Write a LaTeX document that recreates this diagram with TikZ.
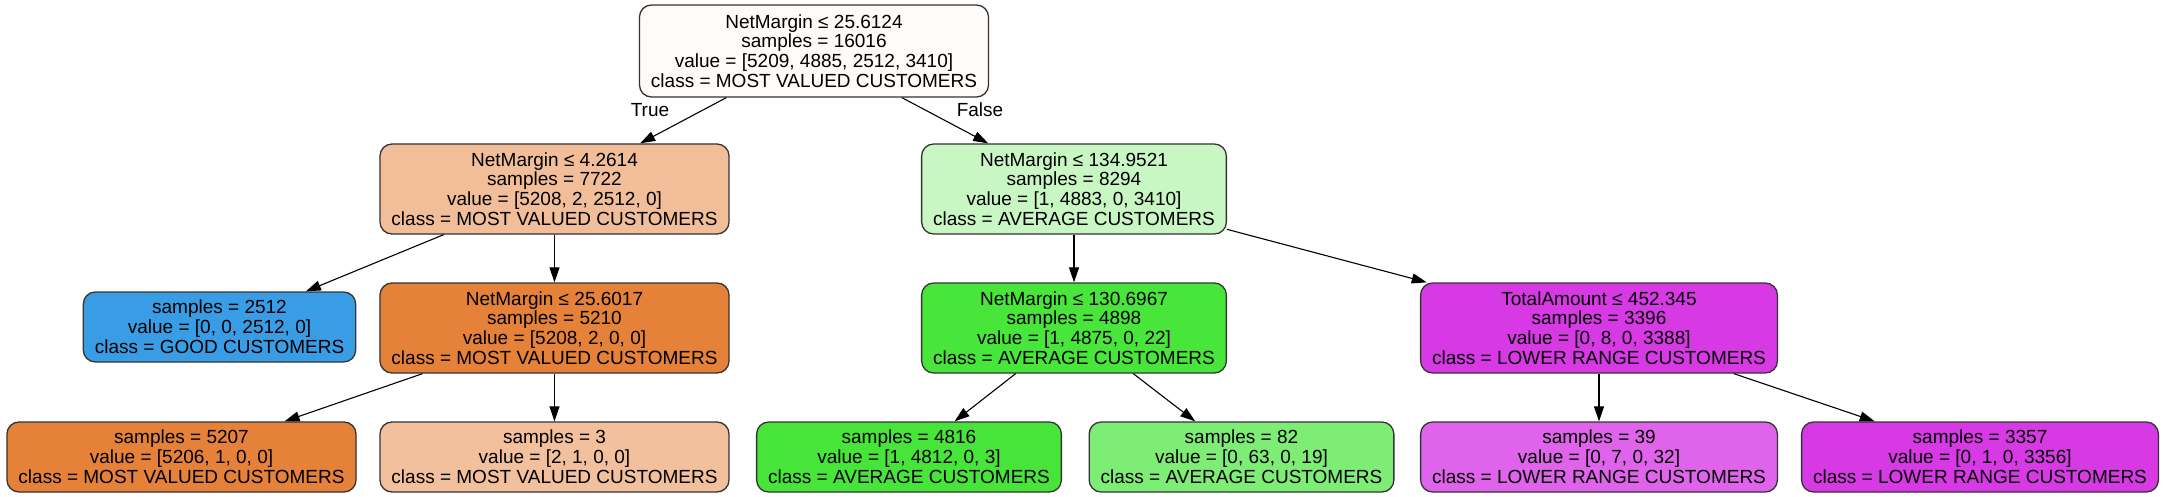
\documentclass[tikz,border=0pt]{standalone}
\usepackage{fontspec}
\setmainfont{Liberation Sans}
\usetikzlibrary{arrows.meta}

\definecolor{rootfill}{RGB}{254,251,249}
\definecolor{orangeA}{RGB}{242,190,153}
\definecolor{orangeB}{RGB}{229,129,57}
\definecolor{orangeC}{RGB}{242,192,156}
\definecolor{blueA}{RGB}{57,157,229}
\definecolor{greenA}{RGB}{200,247,195}
\definecolor{greenB}{RGB}{72,229,58}
\definecolor{greenC}{RGB}{71,229,57}
\definecolor{greenD}{RGB}{126,237,117}
\definecolor{violetA}{RGB}{215,57,229}
\definecolor{violetB}{RGB}{224,100,235}

\begin{document}
\begin{tikzpicture}[x=1pt,y=-1pt,
  box/.style={draw=black!80,line width=1.3pt,rounded corners=12pt,align=center,
    font=\fontsize{19}{19.8}\selectfont,inner xsep=11.5pt,inner ysep=0pt},
  split/.style={box,minimum height=90pt},
  leaf/.style={box,minimum height=70pt},
  edge/.style={line width=1.1pt,-{Triangle[length=15pt,width=10pt]}},
  lbl/.style={font=\fontsize{19}{19.8}\selectfont}]

\useasboundingbox (0,0) rectangle (2165,497);

% root
\node[split,fill=rootfill,minimum height=92pt] (NMroot) at (814,51)
  {NetMargin ≤ 25.6124\\samples = 16016\\value = [5209, 4885, 2512, 3410]\\class = MOST VALUED CUSTOMERS};

% second row
\node[split,fill=orangeA] (NMleft) at (554.5,189)
  {NetMargin ≤ 4.2614\\samples = 7722\\value = [5208, 2, 2512, 0]\\class = MOST VALUED CUSTOMERS};
\node[split,fill=greenA] (NMright) at (1074,189)
  {NetMargin ≤ 134.9521\\samples = 8294\\value = [1, 4883, 0, 3410]\\class = AVERAGE CUSTOMERS};

  \draw[edge] (NMroot) -- (NMleft);
  \draw[edge] (NMroot) -- (NMright);
\node[lbl] (tTrue) at (650,110) {True};
\node[lbl] (tFalse) at (980,110) {False};

% third row
\node[leaf,fill=blueA] (good) at (219.5,327)
  {samples = 2512\\value = [0, 0, 2512, 0]\\class = GOOD CUSTOMERS};
\node[split,fill=orangeB] (NMmost) at (554.5,328)
  {NetMargin ≤ 25.6017\\samples = 5210\\value = [5208, 2, 0, 0]\\class = MOST VALUED CUSTOMERS};
\node[split,fill=greenB] (NMavg) at (1074,328)
  {NetMargin ≤ 130.6967\\samples = 4898\\value = [1, 4875, 0, 22]\\class = AVERAGE CUSTOMERS};
\node[split,fill=violetA] (TAlow) at (1599,328)
  {TotalAmount ≤ 452.345\\samples = 3396\\value = [0, 8, 0, 3388]\\class = LOWER RANGE CUSTOMERS};

  \draw[edge] (NMleft) -- (good);
  \draw[edge] (NMleft) -- (NMmost);
  \draw[edge] (NMright) -- (NMavg);
  \draw[edge] (NMright) -- (TAlow);

% leaves
\node[leaf,fill=orangeB] (mostA) at (181.5,457)
  {samples = 5207\\value = [5206, 1, 0, 0]\\class = MOST VALUED CUSTOMERS};
\node[leaf,fill=orangeC] (mostB) at (554.5,457)
  {samples = 3\\value = [2, 1, 0, 0]\\class = MOST VALUED CUSTOMERS};
\node[leaf,fill=greenC] (avgA) at (909,457)
  {samples = 4816\\value = [1, 4812, 0, 3]\\class = AVERAGE CUSTOMERS};
\node[leaf,fill=greenD] (avgB) at (1241.5,457)
  {samples = 82\\value = [0, 63, 0, 19]\\class = AVERAGE CUSTOMERS};
\node[leaf,fill=violetB] (lowA) at (1599,457)
  {samples = 39\\value = [0, 7, 0, 32]\\class = LOWER RANGE CUSTOMERS};
\node[leaf,fill=violetA] (lowB) at (1980,457)
  {samples = 3357\\value = [0, 1, 0, 3356]\\class = LOWER RANGE CUSTOMERS};

  \draw[edge] (NMmost) -- (mostA);
  \draw[edge] (NMmost) -- (mostB);
  \draw[edge] (NMavg) -- (avgA);
  \draw[edge] (NMavg) -- (avgB);
  \draw[edge] (TAlow) -- (lowA);
  \draw[edge] (TAlow) -- (lowB);

\end{tikzpicture}
\end{document}
